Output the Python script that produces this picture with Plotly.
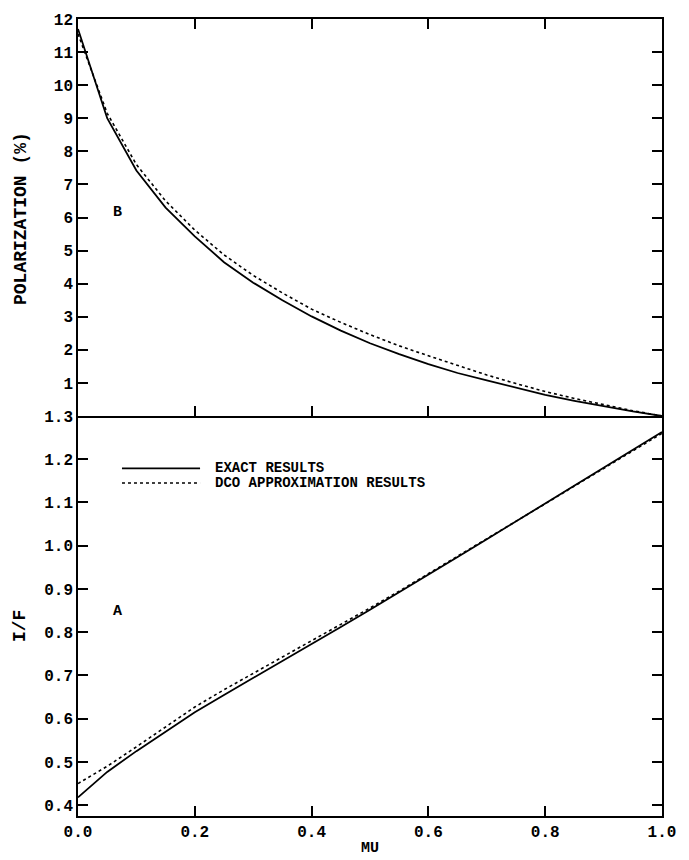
import plotly.graph_objects as go

# Emergent intensity and polarization versus MU
mu = [0.00, 0.05, 0.10, 0.15, 0.20, 0.25, 0.30, 0.35, 0.40, 0.45, 0.50,
      0.55, 0.60, 0.65, 0.70, 0.75, 0.80, 0.85, 0.90, 0.95, 1.00]

pol_exact = [11.70, 9.00, 7.42, 6.30, 5.43, 4.65, 4.03, 3.50, 3.01, 2.58, 2.20,
             1.87, 1.57, 1.30, 1.08, 0.85, 0.64, 0.46, 0.29, 0.14, 0.00]
pol_dco = [11.55, 9.15, 7.60, 6.50, 5.62, 4.87, 4.25, 3.72, 3.23, 2.83, 2.46,
           2.12, 1.82, 1.52, 1.24, 0.98, 0.74, 0.53, 0.34, 0.16, 0.00]

if_exact = [0.418, 0.477, 0.525, 0.571, 0.615, 0.655, 0.694, 0.733, 0.772, 0.812, 0.852,
            0.892, 0.933, 0.974, 1.015, 1.056, 1.098, 1.139, 1.180, 1.222, 1.263]
if_dco = [0.450, 0.490, 0.535, 0.582, 0.627, 0.667, 0.705, 0.742, 0.779, 0.817, 0.856,
          0.895, 0.935, 0.975, 1.015, 1.056, 1.097, 1.138, 1.179, 1.220, 1.260]

x_ticks = [0.0, 0.2, 0.4, 0.6, 0.8, 1.0]
x_ticktext = ["0.0", "0.2", "0.4", "0.6", "0.8", "1.0"]
pol_ticks = [1, 2, 3, 4, 5, 6, 7, 8, 9, 10, 11, 12]
if_ticks = [0.4, 0.5, 0.6, 0.7, 0.8, 0.9, 1.0, 1.1, 1.2, 1.3]
if_ticktext = ["0.4", "0.5", "0.6", "0.7", "0.8", "0.9", "1.0", "1.1", "1.2", "1.3"]

FONT = "Liberation Mono, Courier New, monospace"
tick_font = dict(family=FONT, size=16, color="black", weight="bold")
SOLID = dict(color="black", width=1.8)
DOTTED = dict(color="black", width=1.6, dash="dot")

fig = go.Figure()
# lower panel: I/F
fig.add_trace(go.Scatter(x=mu, y=if_exact, mode="lines", line=SOLID, xaxis="x", yaxis="y"))
fig.add_trace(go.Scatter(x=mu, y=if_dco, mode="lines", line=DOTTED, xaxis="x", yaxis="y"))
# upper panel: polarization
fig.add_trace(go.Scatter(x=mu, y=pol_exact, mode="lines", line=SOLID, xaxis="x2", yaxis="y2"))
fig.add_trace(go.Scatter(x=mu, y=pol_dco, mode="lines", line=DOTTED, xaxis="x2", yaxis="y2"))

LW = 1.5
split = 402 / 801

axis_common = dict(showline=True, linecolor="black", linewidth=LW, mirror="allticks",
                   ticks="inside", ticklen=10, tickwidth=1.5, tickcolor="black",
                   showgrid=False, zeroline=False, tickfont=tick_font)

fig.update_layout(
    width=689, height=860,
    margin=dict(l=78, r=27, t=15, b=44),
    paper_bgcolor="white", plot_bgcolor="white",
    showlegend=False,
    # bottom axis of the I/F panel; its top border is the polarization panel's bottom line
    xaxis=dict(axis_common, mirror=False, domain=[0, 1], range=[0, 1], anchor="y",
               tickvals=x_ticks, ticktext=x_ticktext),
    # downward ticks along the shared border
    xaxis3=dict(overlaying="x", matches="x", anchor="y", side="top", range=[0, 1],
                showline=False, ticks="inside", ticklen=10, tickwidth=1.5,
                tickcolor="black", tickvals=x_ticks, showticklabels=False,
                showgrid=False, zeroline=False),
    yaxis=dict(axis_common, domain=[0, split], range=[0.375, 1.3], anchor="x",
               tickvals=if_ticks, ticktext=if_ticktext),
    xaxis2=dict(axis_common, domain=[0, 1], range=[0, 1], anchor="y2", matches="x",
                tickvals=x_ticks, showticklabels=False),
    yaxis2=dict(axis_common, domain=[split, 1], range=[0, 12], anchor="x2",
                tickvals=pol_ticks),
)

title_font = dict(family=FONT, size=18, color="black", weight="bold")
annotations = [
    dict(text="POLARIZATION (%)", x=-0.098, y=0.75, textangle=-90, font=title_font),
    dict(text="I/F", x=-0.098, y=0.238, textangle=-90, font=title_font),
    dict(text="MU", x=0.5, y=-0.041,
         font=dict(family=FONT, size=15, color="black", weight="bold")),
]
for a in annotations:
    fig.add_annotation(xref="paper", yref="paper", showarrow=False,
                       xanchor="center", yanchor="middle", **a)

# panel letters
fig.add_annotation(text="B", x=0.067, y=6.15, xref="x2", yref="y2", showarrow=False,
                   font=dict(family=FONT, size=15, color="black", weight="bold"))
fig.add_annotation(text="A", x=0.067, y=0.847, xref="x", yref="y", showarrow=False,
                   font=dict(family=FONT, size=15, color="black", weight="bold"))

# key
legend_font = dict(family=FONT, size=14, color="black", weight="bold")
key = [("EXACT RESULTS", SOLID, 1.179), ("DCO APPROXIMATION RESULTS", DOTTED, 1.145)]
for label, style, yk in key:
    fig.add_shape(type="line", xref="x", yref="y", x0=0.0753, x1=0.209, y0=yk, y1=yk,
                  line=style)
    fig.add_annotation(text=label, x=0.231, y=yk, xref="x", yref="y", showarrow=False,
                       xanchor="left", yanchor="middle", font=legend_font)

fig.write_html("out.html")
